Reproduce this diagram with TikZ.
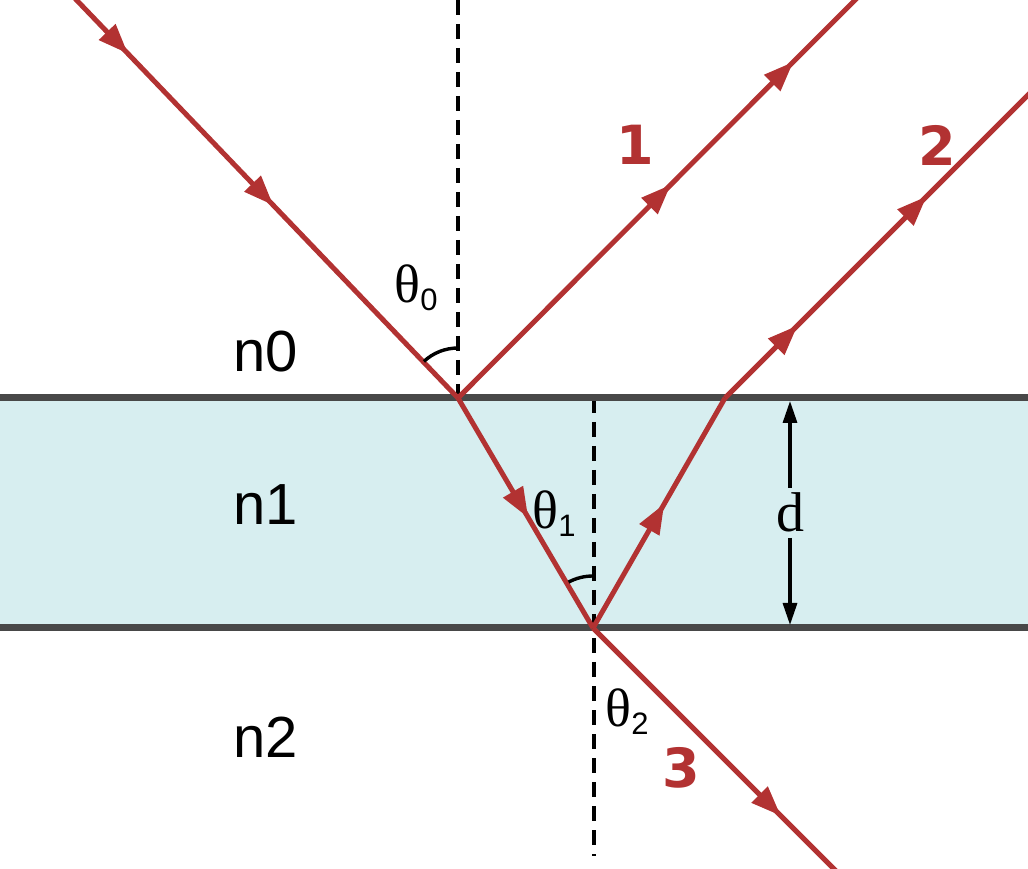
\documentclass[tikz,border=0pt]{standalone}
\usepackage{fontspec}
\setmainfont{Liberation Serif}
\newfontfamily\sansf{Liberation Sans}
\newfontfamily\boldf{DejaVu Sans}
\usetikzlibrary{decorations.markings,arrows.meta}
\definecolor{rayred}{RGB}{178,50,50}
\definecolor{film}{RGB}{215,238,240}
\definecolor{iface}{RGB}{72,72,72}
\begin{document}
\begin{tikzpicture}[x=1pt,y=1pt,
  ray/.style={draw=rayred,line width=5pt},
  tipA/.style={postaction={decorate,decoration={markings,
    mark=at position #1 with {\arrow{Triangle[length=30pt,width=22pt]}}}}},
  normalline/.style={draw=black,line width=3.4pt,dash pattern=on 15pt off 9pt},
  ifaceline/.style={draw=iface,line width=7pt},
  medium/.style={font=\sansf\fontsize{58}{62}\selectfont},
  raylabel/.style={text=rayred,font=\boldf\bfseries\fontsize{54}{58}\selectfont},
  thetalabel/.style={font=\fontsize{54}{58}\selectfont,inner sep=1pt},
  sublabel/.style={font=\sansf\fontsize{31}{34}\selectfont,inner sep=0pt,anchor=west},
  anglearc/.style={draw=black,line width=3.4pt}
]
\useasboundingbox (0,0) rectangle (1028,868);
% film
\fill[film] (0,240) rectangle (1028,470);
% coordinates
\coordinate (S) at (65,880);
\coordinate (O1) at (458,470);
\coordinate (E1) at (867,880);
\coordinate (O2) at (593,240);
\coordinate (O3) at (725,470);
\coordinate (E2) at (1040,785);
\coordinate (E3) at (840,-7);
\coordinate (N1a) at (458,868);
\coordinate (N2a) at (594,470);
\coordinate (N2b) at (594,12);
\coordinate (L1) at (0,470);
\coordinate (L1e) at (1028,470);
\coordinate (L2) at (0,240);
\coordinate (L2e) at (1028,240);
\coordinate (Da) at (790,380);
\coordinate (Db) at (790,467);
\coordinate (Dc) at (790,330);
\coordinate (Dd) at (790,243);
% normals
\draw[normalline] (N1a) -- (O1);
\draw[normalline] (N2a) -- (N2b);
% interfaces
\draw[ifaceline] (L1) -- (L1e);
\draw[ifaceline] (L2) -- (L2e);
% rays
\draw[ray,tipA=0.16,tipA=0.53] (S) -- (O1);
\draw[ray,tipA=0.52,tipA=0.82] (O1) -- (E1);
\draw[ray,tipA=0.52] (O1) -- (O2);
\draw[ray,tipA=0.54] (O2) -- (O3);
\draw[ray,tipA=0.23,tipA=0.64] (O3) -- (E2);
\draw[ray,tipA=0.76] (O2) -- (E3);
% angle arcs
\draw[anglearc] ([shift={(90:50)}]O1) arc[start angle=90,end angle=133,radius=50];
\draw[anglearc] ([shift={(90:52)}]O2) arc[start angle=90,end angle=118,radius=52];
% d arrows
\draw[-{Triangle[length=22pt,width=14pt]},line width=3.2pt] (Da) -- (Db);
\draw[-{Triangle[length=22pt,width=14pt]},line width=3.2pt] (Dc) -- (Dd);
\node[font=\fontsize{56}{60}\selectfont] (dl) at (790,356) {d};
% labels
\node[medium] (n0) at (266,516) {n0};
\node[medium] (n1) at (266,363) {n1};
\node[medium] (n2) at (266,131) {n2};
\node[thetalabel] (t0) at (407,584) {θ};
\node[sublabel] (t0s) at ([xshift=-1pt,yshift=-16pt]t0.east) {0};
\node[thetalabel] (t1) at (545,358) {θ};
\node[sublabel] (t1s) at ([xshift=-1pt,yshift=-16pt]t1.east) {1};
\node[thetalabel] (t2) at (618,160) {θ};
\node[sublabel] (t2s) at ([xshift=-1pt,yshift=-16pt]t2.east) {2};
\node[raylabel] (r1) at (635,723) {1};
\node[raylabel] (r2) at (937,723) {2};
\node[raylabel] (r3) at (681,100) {3};
\end{tikzpicture}
\end{document}
